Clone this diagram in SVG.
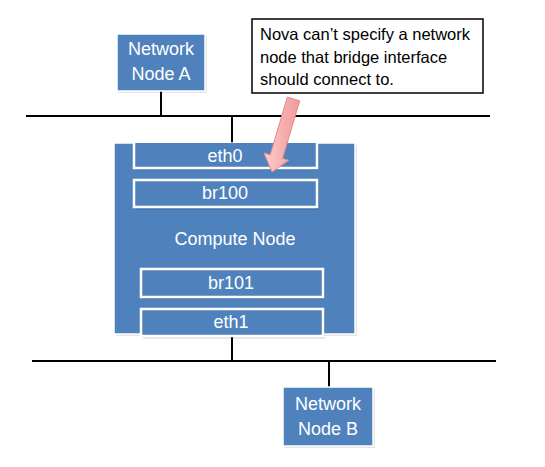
<svg xmlns="http://www.w3.org/2000/svg" width="545" height="467" viewBox="0 0 545 467">
<defs>
<style>
.box{fill:#4f81bd;stroke:#ffffff;stroke-width:1.5}
.iface{fill:#4f81bd;stroke:#ffffff;stroke-width:2.5}
.shadow{fill:#000000;opacity:0.1}
.wire{stroke:#000000;stroke-width:2;fill:none}
.lbl{font-family:"Liberation Sans",Arial,sans-serif;font-size:18px;fill:#ffffff;text-anchor:middle}
.note{font-family:"Liberation Sans",Arial,sans-serif;font-size:16.5px;fill:#000000}
</style>
<linearGradient id="pink" x1="0" y1="0" x2="1" y2="0">
<stop offset="0" stop-color="#fbd0d0"/>
<stop offset="0.5" stop-color="#f7b0b0"/>
<stop offset="1" stop-color="#f29a9a"/>
</linearGradient>
</defs>
<rect width="545" height="467" fill="#ffffff"/>
<g id="connectors">
<line class="wire" x1="26" y1="116" x2="490" y2="116"/>
<line class="wire" x1="161" y1="91" x2="161" y2="116"/>
<line class="wire" x1="232" y1="116" x2="232" y2="143"/>
<line class="wire" x1="32" y1="361" x2="496" y2="361"/>
<line class="wire" x1="232" y1="336" x2="232" y2="361"/>
<line class="wire" x1="329" y1="361" x2="329" y2="387"/>
</g>
<g id="node-a">
<rect class="shadow" x="118" y="36" width="89" height="57"/>
<rect class="box" x="117" y="34" width="88" height="57"/>
<text class="lbl" x="161" y="55">Network</text>
<text class="lbl" x="161" y="80">Node A</text>
</g>
<g id="compute-node">
<rect class="shadow" x="116" y="145" width="241" height="191"/>
<rect class="box" x="114" y="143" width="241" height="191"/>
<text class="lbl" x="235" y="245">Compute Node</text>
</g>
<g id="eth0">
<rect class="shadow" x="136" y="144" width="183" height="26"/>
<rect x="134" y="143" width="183" height="25" fill="#4f81bd"/>
<path d="M134 143 V168 H317 V143" fill="none" stroke="#ffffff" stroke-width="2.5"/>
<text class="lbl" x="225" y="162">eth0</text>
</g>
<g id="br100">
<rect class="shadow" x="136" y="182" width="183" height="28"/>
<rect class="iface" x="134" y="180" width="183" height="27"/>
<text class="lbl" x="225" y="199">br100</text>
</g>
<g id="br101">
<rect class="shadow" x="143" y="271" width="182" height="28"/>
<rect class="iface" x="141" y="269" width="182" height="28"/>
<text class="lbl" x="231" y="289">br101</text>
</g>
<g id="eth1">
<rect class="shadow" x="143" y="311" width="182" height="28"/>
<rect class="iface" x="141" y="309" width="182" height="27"/>
<text class="lbl" x="231" y="328">eth1</text>
</g>
<g id="node-b">
<rect class="shadow" x="284" y="389" width="91" height="59"/>
<rect class="box" x="283" y="387" width="90" height="59"/>
<text class="lbl" x="328" y="410">Network</text>
<text class="lbl" x="328" y="435">Node B</text>
</g>
<g id="callout">
<rect x="252" y="19" width="231" height="74" fill="#ffffff" stroke="#000000" stroke-width="1.5"/>
<text class="note" x="260" y="40">Nova can’t specify a network</text>
<text class="note" x="260" y="63">node that bridge interface</text>
<text class="note" x="260" y="85">should connect to.</text>
</g>
<g id="arrow">
<polygon points="287.3,97.2 299.7,100.8 282.6,158.4 288.9,160.2 272,172 263.9,153 270.2,154.8" fill="url(#pink)" stroke="#e08a8a" stroke-width="1"/>
</g>
</svg>
